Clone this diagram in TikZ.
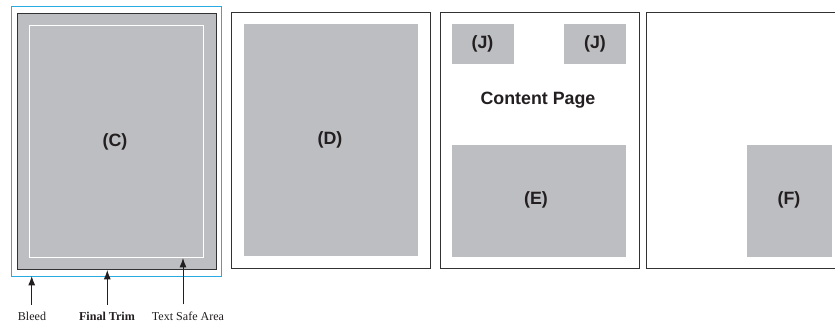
\documentclass[tikz,border=0pt]{standalone}
\usepackage{fontspec}
\setmainfont{Liberation Serif}
\newfontfamily\arialfont{Liberation Sans}
\usepackage{xcolor}
\usetikzlibrary{arrows.meta,positioning,calc}
\definecolor{panelgray}{RGB}{189,190,193}
\definecolor{bleedblue}{RGB}{41,171,226}
\definecolor{edgegray}{RGB}{50,50,50}
\definecolor{inkblack}{RGB}{35,31,32}

\begin{document}
\begin{tikzpicture}[x=0.03cm, y=-0.03cm]
        \tikzstyle{page}=[draw=edgegray, line width=0.8pt]
        \tikzstyle{block}=[fill=panelgray]
        \tikzstyle{tag}=[font=\arialfont\bfseries\fontsize{15.2}{18}\selectfont, text=inkblack]
        \tikzstyle{caption}=[font=\fontsize{10.3}{12}\selectfont, text=inkblack, anchor=base, inner sep=0pt]
        \tikzstyle{pointer}=[-{Latex[length=8pt,width=6pt]}, line width=0.8pt, draw=inkblack, shorten <=5.8pt]

        \useasboundingbox (0,0) rectangle (835,322);

        % Cover page: bleed, final trim, text safe area
        \draw[bleedblue, line width=0.8pt] (11.7,6.7) rectangle (221.7,276);
        \draw[page, block] (17.3,13.3) rectangle (216,269.3);
        \draw[white, line width=0.6pt] (29.3,25.3) rectangle (203.3,257.3);
        \node[tag] (C) at (115,141.5) {(C)};

        % Arrow tips
        \coordinate (bleed) at (31.7,276);
        \coordinate (trim) at (107.3,270);
        \coordinate (safe) at (183,258);

        % Captions below the cover
        \node[caption] (bleedtxt) at (32,320) {Bleed};
        \node[caption] (trimtxt) at (107,320) {\bfseries Final Trim};
        \node[caption] (safetxt) at (188,320) {Text Safe Area};

        \draw[pointer] (bleedtxt.north -| bleed) -- (bleed);
        \draw[pointer] (trimtxt.north -| trim) -- (trim);
        \draw[pointer] (safetxt.north -| safe) -- (safe);

        % Second page
        \draw[page] (231.7,12.3) rectangle (430,268.3);
        \fill[block] (244,24) rectangle (418,256);
        \node[tag] (D) at (330,140) {(D)};

        % Content page
        \draw[page] (440,12.3) rectangle (639,268.3);
        \fill[block] (452,24) rectangle (513.7,64.3);
        \fill[block] (564,24) rectangle (626,64.3);
        \fill[block] (452,145) rectangle (626,256.7);
        \node[tag] (J1) at (482.5,43.5) {(J)};
        \node[tag] (J2) at (595,43.5) {(J)};
        \node[tag] (title) at (538,100) {Content Page};
        \node[tag] (E) at (536,200) {(E)};

        % Last page, cut at the right edge
        \draw[page] (836,12.3) -- (646,12.3) -- (646,268.3) -- (836,268.3);
        \fill[block] (746.7,145) rectangle (832.3,256.7);
        \node[tag] (F) at (789,200) {(F)};
    \end{tikzpicture}
\end{document}
